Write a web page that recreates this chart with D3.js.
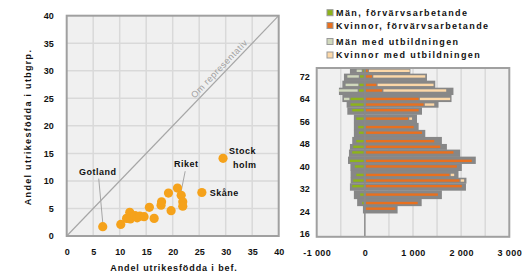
<!DOCTYPE html>
<html>
<head>
<meta charset="utf-8">
<script src="https://cdn.jsdelivr.net/npm/d3@7"></script>
<style>
  body { margin: 0; background: #fff; }
  svg { display: block; font-family: "Liberation Sans", Arial, sans-serif; }
  .tick text { fill: #111; }
</style>
</head>
<body>
<svg id="graf" width="526" height="277"></svg>
<script>
// vänster diagram: län
let lan = ['Gotland', '', '', '', '', '', '', '', '', '', '', '', '', '', '', 'Riket', '', '', 'Skåne', 'Stockholm']
let andelBef = [6.8, 10.2, 11.3, 11.9, 12.0, 12.9, 13.3, 13.8, 14.6, 15.6, 16.5, 17.8, 17.9, 19.2, 19.7, 21.6, 20.9, 21.9, 25.5, 29.5]
let andelUtb = [1.7, 2.1, 3.2, 4.3, 3.1, 3.7, 3.3, 3.6, 3.5, 5.2, 3.2, 5.6, 6.2, 7.8, 4.6, 7.4, 8.7, 6.2, 7.9, 14.1]
let extraBef = [21.9]
let extraUtb = [5.4]
let ticksVanster = [0, 5, 10, 15, 20, 25, 30, 35, 40]

// höger diagram: ålder
let alder = [74, 72, 69, 67, 64, 62, 60, 57, 54, 52, 49, 47, 45, 42, 40, 37, 35, 33, 30, 27, 25]
let manForv = [40, 100, 110, 124, 296, 296, 262, 178, 137, 124, 178, 241, 262, 310, 207, 178, 241, 262, 96, 55, 0]
let manUtb = [130, 264, 290, 414, 138, 0, 0, 0, 0, 0, 0, 0, 0, 0, 0, 0, 0, 0, 0, 0, 0]
let kvinnorForv = [60, 150, 240, 360, 1117, 1220, 1117, 897, 1014, 1186, 1441, 1565, 1841, 2221, 1910, 1758, 1965, 2014, 1517, 1097, 635]
let kvinnorUtb = [870, 1105, 1187, 1330, 655, 221, 0, 83, 0, 0, 0, 0, 0, 0, 0, 97, 97, 0, 0, 0, 0]
let befMan = [310, 434, 467, 538, 467, 378, 364, 228, 228, 228, 262, 310, 330, 350, 300, 296, 296, 310, 228, 160, 40]
let befKvinnor = [945, 1290, 1462, 1840, 1800, 1530, 1187, 1083, 1117, 1255, 1600, 1704, 1980, 2304, 2014, 1945, 2110, 2100, 1600, 1180, 680]
let ticksAlder = [16, 24, 32, 40, 48, 56, 64, 72]
let ticksAntal = [-1000, 0, 1000, 2000, 3000]
let serier = ['Män, förvärvsarbetande', 'Kvinnor, förvärvsarbetande', 'Män med utbildningen', 'Kvinnor med utbildningen']
let farger = ['#8db31a', '#e8701f', '#d0d8bc', '#fcd8a8']

let svg = d3.select('#graf')
let fmt = d3.formatLocale({decimal: ',', thousands: ' ', grouping: [3], currency: ['', ''], minus: '-'}).format(',')

// ---------- vänster ----------
let x1 = d3.scaleLinear().domain([0, 40]).range([66.7, 278.7])
let y1 = d3.scaleLinear().domain([0, 40]).range([236, 15.7])

svg.append('rect')
  .attr('x', x1(0)).attr('y', y1(40))
  .attr('width', x1(40) - x1(0)).attr('height', y1(0) - y1(40))
  .style('fill', '#f0f0f0')

svg.append('g').selectAll('line')
  .data(ticksVanster.slice(1, -1)).enter()
  .append('line')
  .attr('x1', d => x1(d)).attr('x2', d => x1(d))
  .attr('y1', y1(0)).attr('y2', y1(40))
  .style('stroke', '#d9d9d9').style('stroke-width', 1.5)
svg.append('g').selectAll('line')
  .data(ticksVanster.slice(1, -1)).enter()
  .append('line')
  .attr('y1', d => y1(d)).attr('y2', d => y1(d))
  .attr('x1', x1(0)).attr('x2', x1(40))
  .style('stroke', '#d9d9d9').style('stroke-width', 1.5)

// diagonal
svg.append('line')
  .attr('x1', x1(0)).attr('y1', y1(0))
  .attr('x2', x1(40)).attr('y2', y1(40))
  .style('stroke', '#a6a6a6').style('stroke-width', 1.2)
let vinkel = Math.atan2(y1(40) - y1(0), x1(40) - x1(0)) * 180 / Math.PI
svg.append('text')
  .text('Om representativ')
  .attr('transform', 'translate(' + x1(29.6) + ',' + y1(29.6) + ') rotate(' + vinkel + ')')
  .attr('dy', -3)
  .attr('text-anchor', 'middle')
  .style('font-size', '9px').style('letter-spacing', '0.5px')
  .style('fill', '#a0a0a0')

svg.append('rect')
  .attr('x', x1(0)).attr('y', y1(40))
  .attr('width', x1(40) - x1(0)).attr('height', y1(0) - y1(40))
  .style('fill', 'none').style('stroke', '#a0a0a0').style('stroke-width', 2)

// ledlinjer
let ledare = [{namn: 'Gotland', dx: -4, dy: -48}, {namn: 'Riket', dx: 4, dy: -24}]
ledare.forEach(function(l) {
  let i = lan.indexOf(l.namn)
  svg.append('line')
    .attr('x1', x1(andelBef[i]) + l.dx).attr('y1', y1(andelUtb[i]) + l.dy)
    .attr('x2', x1(andelBef[i])).attr('y2', y1(andelUtb[i]) - 4)
    .style('stroke', '#a6a6a6').style('stroke-width', 1)
})

svg.append('g').selectAll('circle')
  .data(andelBef.map((d, i) => [d, andelUtb[i]]).concat(extraBef.map((d, i) => [d, extraUtb[i]])))
  .enter()
  .append('circle')
  .attr('cx', d => x1(d[0]))
  .attr('cy', d => y1(d[1]))
  .attr('r', 4.6)
  .style('fill', '#f5a21b')

let etiketter = [
  {namn: 'Gotland', rader: ['Gotland'], dx: -5, dy: -52, anchor: 'middle'},
  {namn: 'Riket', rader: ['Riket'], dx: 5, dy: -28, anchor: 'middle'},
  {namn: 'Stockholm', rader: ['Stock', 'holm'], dx: 6, dy: -4, anchor: 'start'},
  {namn: 'Skåne', rader: ['Skåne'], dx: 8, dy: 4, anchor: 'start'}
]
etiketter.forEach(function(e) {
  let i = lan.indexOf(e.namn)
  e.rader.forEach(function(r, j) {
    svg.append('text')
      .text(r)
      .attr('x', x1(andelBef[i]) + e.dx + j * 4)
      .attr('y', y1(andelUtb[i]) + e.dy + j * 14)
      .attr('text-anchor', e.anchor)
      .style('font-size', '9px').style('font-weight', 'bold').style('letter-spacing', '0.5px')
      .style('fill', '#111')
  })
})

let ax1 = svg.append('g')
  .attr('transform', 'translate(0,' + (y1(0) + 13) + ')')
  .call(d3.axisBottom(x1).tickValues(ticksVanster).tickSize(0).tickPadding(0))
let ay1 = svg.append('g')
  .attr('transform', 'translate(' + (x1(0) - 13) + ',0)')
  .call(d3.axisLeft(y1).tickValues(ticksVanster).tickSize(0).tickPadding(0))
ax1.select('.domain').remove()
ay1.select('.domain').remove()
svg.selectAll('.tick text').style('font-size', '9px').style('font-weight', 'bold').style('font-family', 'Liberation Sans')

svg.append('text')
  .text('Andel utrikesfödda i bef.')
  .attr('x', 174).attr('y', 271)
  .attr('text-anchor', 'middle')
  .style('font-size', '9px').style('font-weight', 'bold').style('letter-spacing', '0.9px').style('fill', '#111')
svg.append('text')
  .text('Andel utrikesfödda i utbgrp.')
  .attr('transform', 'translate(31,127) rotate(-90)')
  .attr('text-anchor', 'middle')
  .style('font-size', '9px').style('font-weight', 'bold').style('letter-spacing', '1.3px').style('fill', '#111')

// ---------- höger ----------
let x2 = d3.scaleLinear().domain([-1000, 3000]).range([316.7, 509.3])
let y2 = d3.scaleLinear().domain([15, 75]).range([236.8, 68])

svg.append('rect')
  .attr('x', x2(-1000)).attr('y', y2(75))
  .attr('width', x2(3000) - x2(-1000)).attr('height', y2(15) - y2(75))
  .style('fill', '#f0f0f0')
svg.append('g').selectAll('line')
  .data(d3.range(-500, 3000, 500).filter(d => d != 0)).enter()
  .append('line')
  .attr('x1', d => x2(d)).attr('x2', d => x2(d))
  .attr('y1', y2(15)).attr('y2', y2(75))
  .style('stroke', '#d9d9d9').style('stroke-width', 1.5)

// grå befolkningsyta, band mellan åldrarnas mittpunkter
let kanter = alder.map(function(a, i) {
  let ovan = i == 0 ? 75 : (a + alder[i - 1]) / 2
  let under = i == alder.length - 1 ? a - 1.6 : (a + alder[i + 1]) / 2
  return [ovan, under]
})
svg.append('g').selectAll('rect')
  .data(alder).enter()
  .append('rect')
  .attr('x', (d, i) => x2(-befMan[i]))
  .attr('width', (d, i) => x2(befKvinnor[i]) - x2(-befMan[i]))
  .attr('y', (d, i) => y2(kanter[i][0]))
  .attr('height', (d, i) => y2(kanter[i][1]) - y2(kanter[i][0]) + 0.3)
  .style('fill', '#878787')

svg.append('line')
  .attr('x1', x2(0)).attr('x2', x2(0))
  .attr('y1', y2(15)).attr('y2', y2(75))
  .style('stroke', '#8a8a8a').style('stroke-width', 1.5)

// staplar, med liten glipa mellan segmenten
let bh = 2.4
let glipa = 1.2
let staplar = [
  {v0: i => -manForv[i], v1: i => 0, f: farger[0], g0: 0, g1: glipa},
  {v0: i => 0, v1: i => kvinnorForv[i], f: farger[1], g0: glipa, g1: 0},
  {v0: i => -manForv[i] - manUtb[i], v1: i => -manForv[i], f: farger[2], g0: 0, g1: glipa},
  {v0: i => kvinnorForv[i], v1: i => kvinnorForv[i] + kvinnorUtb[i], f: farger[3], g0: glipa, g1: 0}
]
staplar.forEach(function(s) {
  svg.append('g').selectAll('rect')
    .data(alder).enter()
    .append('rect')
    .attr('x', (d, i) => x2(s.v0(i)) + s.g0)
    .attr('width', (d, i) => s.v1(i) == s.v0(i) ? 0 : Math.max(0, x2(s.v1(i)) - x2(s.v0(i)) - s.g0 - s.g1))
    .attr('y', d => y2(d) - bh / 2)
    .attr('height', bh)
    .style('fill', s.f)
})

svg.append('rect')
  .attr('x', x2(-1000)).attr('y', y2(75))
  .attr('width', x2(3000) - x2(-1000)).attr('height', y2(15) - y2(75))
  .style('fill', 'none').style('stroke', '#a0a0a0').style('stroke-width', 2)

let ax2 = svg.append('g')
  .attr('transform', 'translate(0,' + (y2(15) + 13) + ')')
  .call(d3.axisBottom(x2).tickValues(ticksAntal).tickSize(0).tickPadding(0).tickFormat(fmt))
let ay2 = svg.append('g')
  .attr('transform', 'translate(' + (x2(-1000) - 7) + ',0)')
  .call(d3.axisLeft(y2).tickValues(ticksAlder).tickSize(0).tickPadding(0))
ax2.select('.domain').remove()
ay2.select('.domain').remove()
ax2.selectAll('text').style('font-size', '9px').style('font-weight', 'bold').style('font-family', 'Liberation Sans').style('letter-spacing', '0.4px')
ay2.selectAll('text').style('font-size', '9px').style('font-weight', 'bold').style('font-family', 'Liberation Sans')

// legend
let legY = [12.7, 25.5, 41.5, 55]
let leg = svg.append('g').selectAll('g')
  .data(serier).enter()
  .append('g')
  .attr('transform', (d, i) => 'translate(327,' + legY[i] + ')')
leg.append('rect')
  .attr('x', 0).attr('y', -3).attr('width', 6).attr('height', 6)
  .style('fill', (d, i) => farger[i])
  .style('stroke', '#9a9a9a').style('stroke-width', 1)
leg.append('text')
  .text(d => d)
  .attr('x', 9).attr('y', 3)
  .style('font-size', '9px').style('font-weight', 'bold').style('letter-spacing', '1.4px').style('fill', '#111')
</script>
</body>
</html>
